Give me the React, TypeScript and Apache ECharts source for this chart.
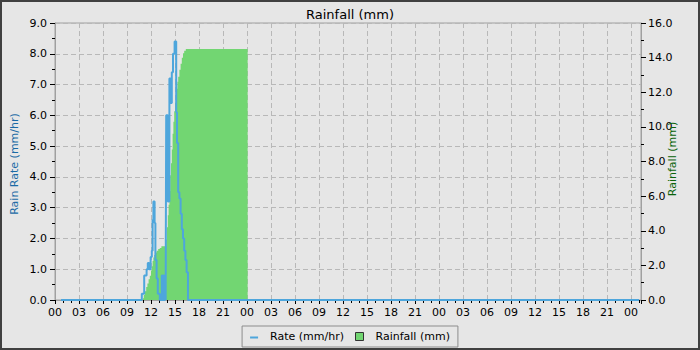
import React, { useEffect, useRef } from "react";
import * as echarts from "echarts";

// Rain rate (mm/hr), step values starting at given hour (hours since start)
const rateTimes = [0.75, 10.85, 11.15, 11.45, 11.6, 11.75, 11.95, 12.1, 12.2, 12.3, 12.45, 12.55, 12.7, 12.85, 13.1, 13.35, 13.45, 13.55, 13.65, 13.75, 13.83, 13.9, 14.1, 14.3, 14.45, 14.6, 14.75, 14.95, 15.15, 15.25, 15.4, 15.55, 15.7, 15.85, 16.0, 16.15, 16.3, 16.45, 16.62, 73.0];
const rateValues = [0, 0.2, 0.8, 1.0, 1.2, 1.0, 1.4, 1.6, 2.6, 3.2, 2.5, 1.3, 0.7, 0.2, 0, 0.8, 0, 0.8, 0, 0.8, 0, 6.0, 3.2, 7.2, 6.4, 7.4, 8.0, 8.4, 6.1, 5.1, 3.5, 3.3, 2.8, 2.3, 2.0, 1.6, 1.3, 0.9, 0, 0];

// Cumulative rainfall (mm)
const rainTimes = [11.0, 11.1, 11.25, 11.4, 11.55, 11.7, 11.85, 12.0, 12.1, 12.2, 12.3, 12.4, 12.55, 12.7, 12.9, 13.1, 13.3, 13.9, 14.0, 14.1, 14.2, 14.3, 14.4, 14.5, 14.6, 14.7, 14.8, 14.9, 15.0, 15.1, 15.2, 15.3, 15.4, 15.55, 15.7, 15.85, 16.0, 16.15, 16.35, 24.08];
const rainValues = [0.1, 0.3, 0.5, 0.75, 0.95, 1.2, 1.4, 1.7, 1.95, 2.25, 2.45, 2.6, 2.75, 2.85, 2.95, 3.0, 3.1, 3.5, 4.2, 4.9, 5.5, 6.3, 7.2, 7.9, 8.7, 9.6, 10.3, 10.9, 11.4, 11.8, 12.2, 12.6, 12.9, 13.3, 13.65, 14.0, 14.25, 14.4, 14.5, 14.5];

const xMin = 0;
const xMax = 73.25;
const xInterval = 3;

const FONT = "DejaVu Sans";
const BLUE = "#4ea6dc";
const GREEN = "#72d672";
const BG = "#e6e6e6";

export default function App() {
  const ref = useRef<HTMLDivElement>(null);
  useEffect(() => {
    if (!ref.current) return;
    const chart = echarts.init(ref.current, null, { renderer: "svg" });
    const rateData = rateTimes.map((t, i) => [t, rateValues[i]]);
    const rainData = rainTimes.map((t, i) => [t, rainValues[i]]);
    chart.setOption({
      animation: false,
      backgroundColor: BG,
      textStyle: { fontFamily: FONT },
      title: {
        text: "Rainfall (mm)",
        left: "center",
        top: 3,
        textStyle: { fontFamily: FONT, fontSize: 13, fontWeight: "normal", color: "#000" },
      },
      grid: {
        left: 55,
        right: 59,
        top: 23,
        bottom: 50,
        show: true,
        borderColor: "#a0a0a0",
        borderWidth: 1,
        backgroundColor: "transparent",
      },
      legend: {
        left: "center",
        bottom: 3,
        padding: [5, 8, 5, 8],
        itemWidth: 8,
        itemHeight: 8,
        itemGap: 11,
        borderColor: "#8c8c8c",
        borderWidth: 1,
        backgroundColor: BG,
        textStyle: { fontFamily: FONT, fontSize: 11, color: "#000", padding: [0, 0, 0, 7] },
        data: [
          { name: "Rate (mm/hr)", icon: "path://M0,0M8,8M0,4L8,4L8,6L0,6Z", itemStyle: { color: BLUE } },
          { name: "Rainfall (mm)", icon: "rect", itemStyle: { color: GREEN, borderColor: "#333", borderWidth: 1 } },
        ],
      },
      xAxis: {
        type: "value",
        min: xMin,
        max: xMax,
        interval: xInterval,
        axisLine: { show: true, lineStyle: { color: "#a0a0a0" } },
        axisTick: { show: true, length: 4, lineStyle: { color: "#000" } },
        minorTick: { show: true, splitNumber: 3, length: 3, lineStyle: { color: "#000" } },
        axisLabel: {
          margin: 7,
          fontFamily: FONT,
          fontSize: 11,
          color: "#000",
          showMaxLabel: false,
          formatter: (v: number) => {
            if (Math.abs(v / xInterval - Math.round(v / xInterval)) > 1e-6) return "";
            const h = Math.round(v) % 24;
            return (h < 10 ? "0" : "") + h;
          },
        },
        splitLine: { show: true, lineStyle: { color: "#b8b8b8", type: [5, 3] } },
      },
      yAxis: [
        {
          type: "value",
          min: 0,
          max: 9,
          interval: 1,
          position: "left",
          axisLine: { show: true, lineStyle: { color: "#a0a0a0" } },
          axisTick: { show: true, length: 5, lineStyle: { color: "#000" } },
          minorTick: { show: true, splitNumber: 2, length: 3, lineStyle: { color: "#000" } },
          axisLabel: {
            margin: 8,
            fontFamily: FONT,
            fontSize: 11,
            color: "#000",
            formatter: (v: number) => v.toFixed(1),
          },
          splitLine: { show: true, lineStyle: { color: "#b8b8b8", type: [5, 3] } },
        },
        {
          type: "value",
          min: 0,
          max: 16,
          interval: 2,
          position: "right",
          axisLine: { show: true, lineStyle: { color: "#a0a0a0" } },
          axisTick: { show: true, length: 5, lineStyle: { color: "#000" } },
          minorTick: { show: true, splitNumber: 2, length: 3, lineStyle: { color: "#000" } },
          axisLabel: {
            margin: 7,
            fontFamily: FONT,
            fontSize: 11,
            color: "#000",
            formatter: (v: number) => v.toFixed(1),
          },
          splitLine: { show: false },
        },
      ],
      series: [
        {
          name: "Rainfall (mm)",
          type: "line",
          yAxisIndex: 1,
          step: "end",
          showSymbol: false,
          data: rainData,
          lineStyle: { width: 0, color: GREEN },
          itemStyle: { color: GREEN },
          areaStyle: { color: GREEN, opacity: 1 },
          z: 2,
        },
        {
          name: "Rate (mm/hr)",
          type: "line",
          yAxisIndex: 0,
          step: "end",
          showSymbol: false,
          data: rateData,
          lineStyle: { width: 2, color: BLUE },
          itemStyle: { color: BLUE },
          z: 3,
        },
      ],
      graphic: [
        {
          type: "text",
          x: 14,
          y: 164,
          rotation: Math.PI / 2,
          z: 100,
          style: {
            text: "Rain Rate (mm/hr)",
            fill: "#1a6aa5",
            font: `11px "${FONT}"`,
            align: "center",
            verticalAlign: "middle",
          },
        },
        {
          type: "text",
          x: 672,
          y: 159,
          rotation: Math.PI / 2,
          z: 100,
          style: {
            text: "Rainfall (mm)",
            fill: "#0b640b",
            font: `11px "${FONT}"`,
            align: "center",
            verticalAlign: "middle",
          },
        },
        {
          type: "rect",
          z: 100,
          shape: { x: 1, y: 1, width: 698, height: 348 },
          style: { fill: "none", stroke: "#404040", lineWidth: 2 },
        },
      ],
    });
    return () => chart.dispose();
  }, []);
  return (
    <div
      ref={ref}
      style={{ position: "absolute", left: 0, top: 0, width: 700, height: 350 }}
    />
  );
}
